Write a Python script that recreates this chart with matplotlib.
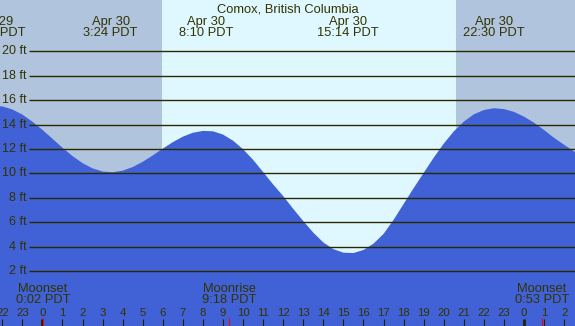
import matplotlib
matplotlib.use('Agg')
import matplotlib.pyplot as plt

plt.rcParams['font.family'] = ['Liberation Sans', 'DejaVu Sans']

# hours after midnight Apr 30 (PDT) and tide height in ft
hours = [-2.5, -2.0, -1.5, -1.0, -0.5, 0.0, 0.5, 1.0, 1.5, 2.0,
         2.5, 3.0, 3.5, 4.0, 4.5, 5.0, 5.5, 6.0, 6.5, 7.0,
         7.5, 8.0, 8.5, 9.0, 9.5, 10.0, 10.5, 11.0, 11.5, 12.0,
         12.5, 13.0, 13.5, 14.0, 14.5, 15.0, 15.5, 16.0, 16.5, 17.0,
         17.5, 18.0, 18.5, 19.0, 19.5, 20.0, 20.5, 21.0, 21.5, 22.0,
         22.5, 23.0, 23.5, 24.0, 24.5, 25.0, 25.5, 26.0, 26.5, 27.0]
heights = [15.53, 15.50, 15.25, 14.83, 14.25, 13.58, 12.85, 12.11, 11.43, 10.85,
           10.42, 10.16, 10.10, 10.23, 10.53, 10.96, 11.48, 12.04, 12.57, 13.02,
           13.34, 13.49, 13.46, 13.19, 12.69, 11.99, 11.12, 10.12, 9.10, 8.15,
           7.10, 6.10, 5.15, 4.35, 3.80, 3.51, 3.48, 3.73, 4.25, 5.05,
           6.20, 7.50, 8.80, 10.05, 11.30, 12.45, 13.45, 14.25, 14.85, 15.20,
           15.35, 15.28, 15.05, 14.66, 14.16, 13.56, 12.92, 12.35, 11.80, 11.30]

# high / low tide labels
extreme_times = [-2.39, 3.40, 8.167, 15.233, 22.5]
extreme_dates = ['Apr 29', 'Apr 30', 'Apr 30', 'Apr 30', 'Apr 30']
extreme_labels = ['21:37 PDT', '3:24 PDT', '8:10 PDT', '15:14 PDT', '22:30 PDT']

sunrise = 5.98
sunset = 20.62

moon_times = [0.033, 9.3, 24.883]
moon_names = ['Moonset', 'Moonrise', 'Moonset']
moon_labels = ['0:02 PDT', '9:18 PDT', '0:53 PDT']

hour_ticks = list(range(-2, 27))
grid_levels = [2, 4, 6, 8, 10, 12, 14, 16, 18, 20]

W, H = 575, 326
xmin, xmax = -2.113, 26.54
ymin, ymax = -2.5, 24.22

txt = '#333300'
night = '#b0c4de'
day = '#dff8ff'
water = '#4161d6'

fig = plt.figure(figsize=(W / 100, H / 100), dpi=100)
ax = fig.add_axes([0, 0, 1, 1])
ax.set_xlim(xmin, xmax)
ax.set_ylim(ymin, ymax)
ax.axis('off')

xt = ax.get_xaxis_transform()
yt = ax.get_yaxis_transform()

def py(p):
    # pixel row from top -> axes fraction
    return 1 - p / H

ax.axvspan(xmin, sunrise, color=night, lw=0, zorder=0)
ax.axvspan(sunrise, sunset, color=day, lw=0, zorder=0)
ax.axvspan(sunset, xmax, color=night, lw=0, zorder=0)

ax.fill_between(hours, ymin, heights, color=water, lw=0, zorder=1)

ax.hlines(grid_levels, 29 / W, 1, transform=yt, color='#2a2a00', lw=1.0, zorder=2)
for g in grid_levels:
    ax.text(27 / W, g, '%d ft' % g, transform=yt, ha='right', va='center',
            fontsize=9, color=txt, zorder=3)

ax.text(0.5, py(12), 'Comox, British Columbia', transform=ax.transAxes,
        ha='center', va='baseline', fontsize=9.3, color=txt)
for t, d, l in zip(extreme_times, extreme_dates, extreme_labels):
    ax.text(t, py(24.5), d, transform=xt, ha='center', va='baseline', fontsize=9.3, color=txt)
    ax.text(t, py(36), l, transform=xt, ha='center', va='baseline', fontsize=9.3, color=txt)

for t, n, l in zip(moon_times, moon_names, moon_labels):
    ax.text(t, py(291.7), n, transform=xt, ha='center', va='baseline', fontsize=9.3, color=txt)
    ax.text(t, py(303.3), l, transform=xt, ha='center', va='baseline', fontsize=9.3, color=txt)

for h in hour_ticks:
    lw = 2.0 if h % 24 == 0 else 0.8
    ax.vlines(h, 0, 7 / H, transform=xt, color='#222200', lw=lw, zorder=3)
    ax.text(h, py(315.7), str(h % 24), transform=xt, ha='center', va='baseline',
            fontsize=8.2, color=txt)
ax.vlines(moon_times, 0, 8 / H, transform=xt, color='red', lw=0.8, zorder=4)

fig.savefig('out.png', dpi=100)
